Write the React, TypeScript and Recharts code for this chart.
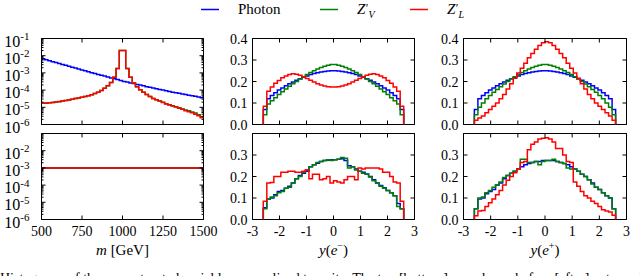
import React from 'react';
import { LineChart, Line, XAxis, YAxis, ReferenceArea } from 'recharts';

const FONT = '"Liberation Serif", "DejaVu Serif", serif';
const BLUE = '#0000ff';
const GREEN = '#008000';
const RED = '#ff0000';

// ---------- categories (bin edges) ----------
const massEdges = Array.from({ length: 51 }, (_, i) => 500 + 20 * i);
const rapEdges = Array.from({ length: 41 }, (_, i) => Math.round((-2.6 + 0.13 * i) * 1000) / 1000);

// ---------- tick labels ----------
const massTicks = [500, 750, 1000, 1250, 1500];
const rapTicks = [-3, -2, -1, 0, 1, 2, 3];
const logMajorTop = [1e-6, 1e-5, 1e-4, 1e-3, 1e-2, 1e-1];
const logMajorBottom = [1e-6, 1e-5, 1e-4, 1e-3, 1e-2];
const logMinor = [
  2e-6, 3e-6, 4e-6, 5e-6, 6e-6, 7e-6, 8e-6, 9e-6,
  2e-5, 3e-5, 4e-5, 5e-5, 6e-5, 7e-5, 8e-5, 9e-5,
  2e-4, 3e-4, 4e-4, 5e-4, 6e-4, 7e-4, 8e-4, 9e-4,
  2e-3, 3e-3, 4e-3, 5e-3, 6e-3, 7e-3, 8e-3, 9e-3,
  2e-2, 3e-2, 4e-2, 5e-2, 6e-2, 7e-2, 8e-2, 9e-2,
];
const linTicksTop = [0, 0.1, 0.2, 0.3, 0.4];
const linTicksBottom = [0, 0.1, 0.2, 0.3];

// ---------- legend ----------
const seriesNames = ['Photon', 'Z′V', 'Z′L'];

// ---------- m [GeV], before cuts ----------
const massPhotonBefore = [
  6.6e-3, 5.75e-3, 5.1e-3, 4.47e-3, 3.98e-3, 3.55e-3, 3.09e-3, 2.75e-3, 2.4e-3, 2.14e-3,
  1.9e-3, 1.66e-3, 1.48e-3, 1.32e-3, 1.17e-3, 1.02e-3, 9.1e-4, 8.1e-4, 7.2e-4, 6.5e-4,
  5.75e-4, 5.1e-4, 4.6e-4, 4.1e-4, 3.6e-4, 3.2e-4, 2.95e-4, 2.6e-4, 2.4e-4, 2.14e-4,
  1.95e-4, 1.78e-4, 1.58e-4, 1.45e-4, 1.32e-4, 1.2e-4, 1.1e-4, 1.0e-4, 9.1e-5, 8.3e-5,
  7.6e-5, 7.1e-5, 6.5e-5, 6.0e-5, 5.5e-5, 5.1e-5, 4.7e-5, 4.4e-5, 4.0e-5, 3.6e-5,
];
const massZvBefore = [
  1.75e-5, 1.8e-5, 1.85e-5, 1.92e-5, 2.0e-5, 2.12e-5, 2.3e-5, 2.5e-5, 2.7e-5, 2.95e-5,
  3.2e-5, 3.5e-5, 3.8e-5, 4.2e-5, 4.7e-5, 5.4e-5, 6.3e-5, 7.6e-5, 9.5e-5, 1.26e-4,
  1.78e-4, 2.8e-4, 5.6e-4, 1.78e-3, 2.0e-2, 2.0e-2, 1.78e-3, 5.6e-4, 2.6e-4, 1.58e-4,
  1.05e-4, 7.6e-5, 5.6e-5, 4.2e-5, 3.3e-5, 2.75e-5, 2.3e-5, 1.95e-5, 1.62e-5, 1.4e-5,
  1.22e-5, 1.08e-5, 9.3e-6, 8.0e-6, 7.0e-6, 6.2e-6, 5.4e-6, 4.6e-6, 3.7e-6, 2.8e-6,
];
const massZlBefore = [
  1.7e-5, 1.74e-5, 1.82e-5, 1.9e-5, 2.0e-5, 2.14e-5, 2.3e-5, 2.5e-5, 2.7e-5, 2.95e-5,
  3.2e-5, 3.5e-5, 3.8e-5, 4.2e-5, 4.7e-5, 5.4e-5, 6.3e-5, 7.6e-5, 9.5e-5, 1.26e-4,
  1.78e-4, 2.8e-4, 5.6e-4, 1.78e-3, 2.0e-2, 2.0e-2, 1.78e-3, 5.6e-4, 2.6e-4, 1.58e-4,
  1.05e-4, 7.6e-5, 5.6e-5, 4.2e-5, 3.3e-5, 2.75e-5, 2.3e-5, 1.9e-5, 1.58e-5, 1.38e-5,
  1.2e-5, 1.05e-5, 8.9e-6, 7.6e-6, 6.3e-6, 5.5e-6, 4.8e-6, 4.0e-6, 3.2e-6, 2.5e-6,
];

// ---------- m [GeV], after cuts ----------
const massPhotonAfter = [
  1e-3, 1e-3, 1e-3, 1e-3, 1e-3, 1e-3, 1e-3, 1e-3, 1e-3, 1e-3,
  1e-3, 1e-3, 1e-3, 1e-3, 1e-3, 1e-3, 1e-3, 1e-3, 1e-3, 1e-3,
  1e-3, 1e-3, 1e-3, 1e-3, 1e-3, 1e-3, 1e-3, 1e-3, 1e-3, 1e-3,
  1e-3, 1e-3, 1e-3, 1e-3, 1e-3, 1e-3, 1e-3, 1e-3, 1e-3, 1e-3,
  1e-3, 1e-3, 1e-3, 1e-3, 1e-3, 1e-3, 1e-3, 1e-3, 1e-3, 1e-3,
];
const massZvAfter = [
  1e-3, 1e-3, 1e-3, 1e-3, 1e-3, 1e-3, 1e-3, 1e-3, 1e-3, 1e-3,
  1e-3, 1e-3, 1e-3, 1e-3, 1e-3, 1e-3, 1e-3, 1e-3, 1e-3, 1e-3,
  1e-3, 1e-3, 1e-3, 1e-3, 1e-3, 1e-3, 1e-3, 1e-3, 1e-3, 1e-3,
  1e-3, 1e-3, 1e-3, 1e-3, 1e-3, 1e-3, 1e-3, 1e-3, 1e-3, 1e-3,
  1e-3, 1e-3, 1e-3, 1e-3, 1e-3, 1e-3, 1e-3, 1e-3, 1e-3, 1e-3,
];
const massZlAfter = [
  1e-3, 1e-3, 1e-3, 1e-3, 1e-3, 1e-3, 1e-3, 1e-3, 1e-3, 1e-3,
  1e-3, 1e-3, 1e-3, 1e-3, 1e-3, 1e-3, 1e-3, 1e-3, 1e-3, 1e-3,
  1e-3, 1e-3, 1e-3, 1e-3, 1e-3, 1e-3, 1e-3, 1e-3, 1e-3, 1e-3,
  1e-3, 1e-3, 1e-3, 1e-3, 1e-3, 1e-3, 1e-3, 1e-3, 1e-3, 1e-3,
  1e-3, 1e-3, 1e-3, 1e-3, 1e-3, 1e-3, 1e-3, 1e-3, 0.98e-3, 0.97e-3,
];

// ---------- y(e-), before cuts ----------
const yemPhotonBefore = [
  0.07, 0.12, 0.135, 0.148, 0.16, 0.17, 0.18, 0.19, 0.198, 0.206,
  0.213, 0.22, 0.226, 0.232, 0.237, 0.241, 0.244, 0.247, 0.249, 0.25,
  0.25, 0.249, 0.247, 0.244, 0.241, 0.237, 0.232, 0.226, 0.22, 0.213,
  0.206, 0.198, 0.19, 0.18, 0.17, 0.16, 0.148, 0.135, 0.12, 0.07,
];
const yemZvBefore = [
  0.045, 0.095, 0.11, 0.125, 0.14, 0.152, 0.165, 0.178, 0.19, 0.2,
  0.212, 0.222, 0.232, 0.242, 0.25, 0.258, 0.265, 0.271, 0.276, 0.279,
  0.279, 0.276, 0.271, 0.265, 0.258, 0.25, 0.242, 0.232, 0.222, 0.212,
  0.2, 0.19, 0.178, 0.165, 0.152, 0.14, 0.125, 0.11, 0.095, 0.045,
];
const yemZlBefore = [
  0.085, 0.155, 0.175, 0.192, 0.205, 0.217, 0.226, 0.233, 0.236, 0.234,
  0.229, 0.222, 0.214, 0.206, 0.198, 0.19, 0.184, 0.179, 0.176, 0.175,
  0.175, 0.176, 0.179, 0.184, 0.19, 0.198, 0.206, 0.214, 0.222, 0.229,
  0.234, 0.236, 0.233, 0.226, 0.217, 0.205, 0.192, 0.175, 0.155, 0.085,
];

// ---------- y(e+), before cuts ----------
const yepPhotonBefore = [
  0.07, 0.12, 0.135, 0.148, 0.16, 0.17, 0.18, 0.19, 0.198, 0.206,
  0.213, 0.22, 0.226, 0.232, 0.237, 0.241, 0.244, 0.247, 0.249, 0.25,
  0.25, 0.249, 0.247, 0.244, 0.241, 0.237, 0.232, 0.226, 0.22, 0.213,
  0.206, 0.198, 0.19, 0.18, 0.17, 0.16, 0.148, 0.135, 0.12, 0.07,
];
const yepZvBefore = [
  0.045, 0.08, 0.1, 0.12, 0.135, 0.15, 0.163, 0.176, 0.188, 0.2,
  0.212, 0.222, 0.232, 0.242, 0.25, 0.258, 0.265, 0.271, 0.276, 0.279,
  0.279, 0.276, 0.271, 0.265, 0.258, 0.25, 0.242, 0.232, 0.222, 0.212,
  0.2, 0.188, 0.176, 0.163, 0.15, 0.135, 0.12, 0.1, 0.08, 0.045,
];
const yepZlBefore = [
  0.02, 0.03, 0.04, 0.055, 0.07, 0.085, 0.1, 0.12, 0.14, 0.165,
  0.19, 0.215, 0.24, 0.262, 0.285, 0.31, 0.33, 0.35, 0.368, 0.38,
  0.385, 0.38, 0.368, 0.35, 0.33, 0.31, 0.285, 0.262, 0.24, 0.215,
  0.19, 0.165, 0.14, 0.12, 0.1, 0.085, 0.07, 0.055, 0.04, 0.02,
];

// ---------- y(e-), after cuts ----------
const yemPhotonAfter = [
  0.055, 0.095, 0.1, 0.115, 0.13, 0.135, 0.145, 0.155, 0.17, 0.19,
  0.205, 0.215, 0.225, 0.245, 0.255, 0.262, 0.27, 0.275, 0.276, 0.278,
  0.278, 0.28, 0.283, 0.275, 0.25, 0.245, 0.235, 0.225, 0.22, 0.212,
  0.2, 0.185, 0.17, 0.158, 0.148, 0.135, 0.125, 0.11, 0.075, 0.05,
];
const yemZvAfter = [
  0.05, 0.095, 0.105, 0.11, 0.125, 0.13, 0.145, 0.15, 0.17, 0.19,
  0.2, 0.22, 0.23, 0.245, 0.255, 0.265, 0.27, 0.275, 0.278, 0.275,
  0.278, 0.28, 0.288, 0.285, 0.24, 0.245, 0.23, 0.225, 0.215, 0.21,
  0.198, 0.18, 0.17, 0.155, 0.145, 0.135, 0.125, 0.11, 0.06, 0.05,
];
const yemZlAfter = [
  0.085, 0.17, 0.172, 0.2, 0.2, 0.22, 0.22, 0.225, 0.225, 0.22,
  0.22, 0.225, 0.23, 0.19, 0.21, 0.21, 0.185, 0.19, 0.2, 0.17,
  0.18, 0.175, 0.17, 0.185, 0.2, 0.2, 0.185, 0.24, 0.235, 0.24,
  0.24, 0.24, 0.24, 0.235, 0.22, 0.22, 0.2, 0.175, 0.17, 0.085,
];

// ---------- y(e+), after cuts ----------
const yepPhotonAfter = [
  0.05, 0.095, 0.1, 0.12, 0.13, 0.14, 0.16, 0.17, 0.19, 0.205,
  0.215, 0.225, 0.235, 0.245, 0.255, 0.26, 0.265, 0.27, 0.27, 0.275,
  0.275, 0.275, 0.275, 0.27, 0.265, 0.26, 0.255, 0.245, 0.235, 0.225,
  0.21, 0.2, 0.185, 0.17, 0.15, 0.14, 0.125, 0.11, 0.1, 0.05,
];
const yepZvAfter = [
  0.05, 0.1, 0.105, 0.125, 0.135, 0.15, 0.16, 0.175, 0.195, 0.205,
  0.215, 0.225, 0.235, 0.28, 0.28, 0.265, 0.265, 0.27, 0.255, 0.27,
  0.275, 0.275, 0.28, 0.27, 0.265, 0.26, 0.24, 0.235, 0.235, 0.225,
  0.21, 0.2, 0.185, 0.165, 0.15, 0.14, 0.125, 0.11, 0.1, 0.05,
];
const yepZlAfter = [
  0.018, 0.04, 0.042, 0.06, 0.078, 0.095, 0.115, 0.135, 0.16, 0.183,
  0.2, 0.218, 0.235, 0.265, 0.27, 0.325, 0.35, 0.36, 0.375, 0.378,
  0.38, 0.375, 0.36, 0.33, 0.33, 0.3, 0.27, 0.265, 0.175, 0.155,
  0.13, 0.11, 0.1, 0.085, 0.075, 0.06, 0.045, 0.04, 0.035, 0.02,
];

// ---------- helpers ----------
type Row = { x: number; p: number; v: number; l: number };

function massRows(p: number[], v: number[], l: number[]): Row[] {
  const rows: Row[] = p.map((_, i) => ({ x: massEdges[i], p: p[i], v: v[i], l: l[i] }));
  const n = p.length - 1;
  rows.push({ x: massEdges[n + 1], p: p[n], v: v[n], l: l[n] });
  return rows;
}

function rapRows(p: number[], v: number[], l: number[]): Row[] {
  const n = p.length;
  const rows: Row[] = [{ x: rapEdges[0], p: 0, v: 0, l: 0 }];
  for (let i = 0; i < n; i++) rows.push({ x: rapEdges[i], p: p[i], v: v[i], l: l[i] });
  rows.push({ x: rapEdges[n], p: p[n - 1], v: v[n - 1], l: l[n - 1] });
  rows.push({ x: rapEdges[n], p: 0, v: 0, l: 0 });
  return rows;
}

const PL = 45.5;
const PR = 24;
const PT = 12.5;
const PB = 46;

type PanelProps = {
  left: number;
  top: number;
  w: number;
  h: number;
  rows: Row[];
  xDomain: [number, number];
  xTicks: number[];
  showX: boolean;
  xFmt: (v: number) => string;
  yDomain: [number, number];
  yTicks: number[];
  yLabels: number[];
  log: boolean;
  yGap: number;
  title?: React.ReactNode;
};

function Panel(props: PanelProps) {
  const { left, top, w, h, rows, xDomain, xTicks, showX, xFmt, yDomain, yTicks, yLabels, log, yGap, title } = props;
  const W = PL + w + PR;
  const H = PT + h + PB;

  const yTick = (tp: any) => {
    const { y, payload } = tp;
    const v = payload.value as number;
    const major = !log || Math.abs(Math.log10(v) - Math.round(Math.log10(v))) < 1e-6;
    const len = major ? 4 : 2;
    const isLabel = yLabels.some((t) => (log ? Math.abs(Math.log10(t) - Math.log10(v)) < 1e-6 : Math.abs(t - v) < 1e-9));
    let label: React.ReactNode = null;
    if (isLabel) {
      if (log) {
        const e = Math.round(Math.log10(v));
        label = (
          <text x={PL - yGap} y={y + 8} textAnchor="end" fontFamily={FONT} fontSize={16} fill="#000">
            <tspan>10</tspan>
            <tspan dy={-6.5} fontSize={11}>{'-' + Math.abs(e)}</tspan>
          </text>
        );
      } else {
        label = (
          <text x={PL - yGap} y={y + 5} textAnchor="end" fontFamily={FONT} fontSize={14} fill="#000">
            {v.toFixed(1)}
          </text>
        );
      }
    }
    return (
      <g>
        <line x1={PL} x2={PL + len} y1={y} y2={y} stroke="#000" strokeWidth={1} />
        <line x1={PL + w} x2={PL + w - len} y1={y} y2={y} stroke="#000" strokeWidth={1} />
        {label}
      </g>
    );
  };

  const xTick = (tp: any) => {
    const { x, payload } = tp;
    const v = payload.value as number;
    return (
      <g>
        <line x1={x} x2={x} y1={PT + h} y2={PT + h - 4} stroke="#000" strokeWidth={1} />
        <line x1={x} x2={x} y1={PT} y2={PT + 4} stroke="#000" strokeWidth={1} />
        {showX && (
          <text x={x} y={PT + h + 16} textAnchor="middle" fontFamily={FONT} fontSize={14} fill="#000">
            {xFmt(v)}
          </text>
        )}
      </g>
    );
  };

  const titleFn = title
    ? () => (
        <text x={PL + w / 2} y={PT + h + 35} textAnchor="middle" fontFamily={FONT} fontSize={15} fill="#000">
          {title}
        </text>
      )
    : undefined;

  return (
    <div style={{ position: 'absolute', left: left - PL, top: top - PT }}>
      <LineChart width={W} height={H} data={rows} margin={{ top: PT, right: PR, bottom: 0, left: 0 }}>
        <XAxis
          dataKey="x"
          type="number"
          domain={xDomain}
          ticks={xTicks}
          interval={0}
          tick={xTick}
          tickLine={false}
          axisLine={false}
          height={PB}
          allowDataOverflow
          label={titleFn}
        />
        <YAxis
          type="number"
          domain={yDomain}
          scale={log ? 'log' : 'linear'}
          ticks={yTicks}
          interval={0}
          tick={yTick}
          tickLine={false}
          axisLine={false}
          width={PL}
          allowDataOverflow
        />
        <Line type="stepAfter" dataKey="p" name={seriesNames[0]} stroke={BLUE} strokeWidth={1.5} dot={false} isAnimationActive={false} />
        <Line type="stepAfter" dataKey="v" name={seriesNames[1]} stroke={GREEN} strokeWidth={1.5} dot={false} isAnimationActive={false} />
        <Line type="stepAfter" dataKey="l" name={seriesNames[2]} stroke={RED} strokeWidth={1.5} dot={false} isAnimationActive={false} />
        <ReferenceArea
          x1={xDomain[0]}
          x2={xDomain[1]}
          y1={yDomain[0]}
          y2={yDomain[1]}
          fill="none"
          fillOpacity={0}
          stroke="#000"
          strokeWidth={1}
          ifOverflow="visible"
        />
      </LineChart>
    </div>
  );
}

const rapFmt = (v: number) => (v < 0 ? '-' + Math.abs(v) : String(v));
const massFmt = (v: number) => String(v);

const LEFT_X = 41.5;
const MID_X = 252.5;
const RIGHT_X = 463.5;
const TOP_Y = 38.5;
const BOT_Y = 133.5;
const PW = 162;
const PH = 86;

function Legend() {
  const items = [
    { color: BLUE, x: 201, tx: 238 },
    { color: GREEN, x: 320, tx: 357 },
    { color: RED, x: 410, tx: 447 },
  ];
  const subs = ['V', 'L'];
  return (
    <svg style={{ position: 'absolute', left: 0, top: 0 }} width={640} height={26}>
      {items.map((it, i) => (
        <line key={'l' + i} x1={it.x} x2={it.x + 18} y1={9.5} y2={9.5} stroke={it.color} strokeWidth={1.5} />
      ))}
      <text x={items[0].tx} y={14} fontFamily={FONT} fontSize={15} fill="#000">
        {seriesNames[0]}
      </text>
      {subs.map((s, i) => (
        <text key={s} x={items[i + 1].tx} y={14} fontFamily={FONT} fontSize={15} fill="#000">
          <tspan fontStyle="italic">Z</tspan>
          <tspan dx={0.5} dy={-2} fontSize={12}>{'′'}</tspan>
          <tspan dy={6} fontSize={10} fontStyle="italic">{s}</tspan>
        </text>
      ))}
    </svg>
  );
}

export default function App() {
  const common = { w: PW, h: PH };
  return (
    <div style={{ position: 'absolute', left: 0, top: 0, width: 640, height: 276, overflow: 'hidden', background: '#fff' }}>
      <Legend />
      <Panel
        {...common}
        left={LEFT_X}
        top={TOP_Y}
        rows={massRows(massPhotonBefore, massZvBefore, massZlBefore)}
        xDomain={[500, 1500]}
        xTicks={massTicks}
        showX={false}
        xFmt={massFmt}
        yDomain={[1e-6, 1e-1]}
        yTicks={[...logMajorTop, ...logMinor].sort((a, b) => a - b)}
        yLabels={logMajorTop}
        log
        yGap={12}
      />
      <Panel
        {...common}
        left={LEFT_X}
        top={BOT_Y}
        rows={massRows(massPhotonAfter, massZvAfter, massZlAfter)}
        xDomain={[500, 1500]}
        xTicks={massTicks}
        showX
        xFmt={massFmt}
        yDomain={[1e-6, 1e-1]}
        yTicks={[...logMajorTop, ...logMinor].sort((a, b) => a - b)}
        yLabels={logMajorBottom}
        log
        yGap={12}
        title={
          <>
            <tspan fontStyle="italic">m</tspan>
            <tspan> [GeV]</tspan>
          </>
        }
      />
      <Panel
        {...common}
        left={MID_X}
        top={TOP_Y}
        rows={rapRows(yemPhotonBefore, yemZvBefore, yemZlBefore)}
        xDomain={[-3, 3]}
        xTicks={rapTicks}
        showX={false}
        xFmt={rapFmt}
        yDomain={[0, 0.4]}
        yTicks={linTicksTop}
        yLabels={linTicksTop}
        log={false}
        yGap={5}
      />
      <Panel
        {...common}
        left={MID_X}
        top={BOT_Y}
        rows={rapRows(yemPhotonAfter, yemZvAfter, yemZlAfter)}
        xDomain={[-3, 3]}
        xTicks={rapTicks}
        showX
        xFmt={rapFmt}
        yDomain={[0, 0.4]}
        yTicks={linTicksTop}
        yLabels={linTicksBottom}
        log={false}
        yGap={5}
        title={
          <>
            <tspan fontStyle="italic">y</tspan>
            <tspan>(</tspan>
            <tspan fontStyle="italic">e</tspan>
            <tspan dy={-6} fontSize={10}>−</tspan>
            <tspan dy={6}>)</tspan>
          </>
        }
      />
      <Panel
        w={163}
        h={PH}
        left={RIGHT_X}
        top={TOP_Y}
        rows={rapRows(yepPhotonBefore, yepZvBefore, yepZlBefore)}
        xDomain={[-3, 3]}
        xTicks={rapTicks}
        showX={false}
        xFmt={rapFmt}
        yDomain={[0, 0.4]}
        yTicks={linTicksTop}
        yLabels={linTicksTop}
        log={false}
        yGap={5}
      />
      <Panel
        w={163}
        h={PH}
        left={RIGHT_X}
        top={BOT_Y}
        rows={rapRows(yepPhotonAfter, yepZvAfter, yepZlAfter)}
        xDomain={[-3, 3]}
        xTicks={rapTicks}
        showX
        xFmt={rapFmt}
        yDomain={[0, 0.4]}
        yTicks={linTicksTop}
        yLabels={linTicksBottom}
        log={false}
        yGap={5}
        title={
          <>
            <tspan fontStyle="italic">y</tspan>
            <tspan>(</tspan>
            <tspan fontStyle="italic">e</tspan>
            <tspan dy={-6} fontSize={10}>+</tspan>
            <tspan dy={6}>)</tspan>
          </>
        }
      />
      <div
        style={{
          position: 'absolute',
          left: 0,
          top: 271,
          fontFamily: FONT,
          fontSize: 14,
          lineHeight: '16px',
          whiteSpace: 'nowrap',
          color: '#000',
        }}
      >
        Histograms of the reconstructed variables normalized to unity. The top [bottom] row shows before [after] cuts, and the
      </div>
    </div>
  );
}
